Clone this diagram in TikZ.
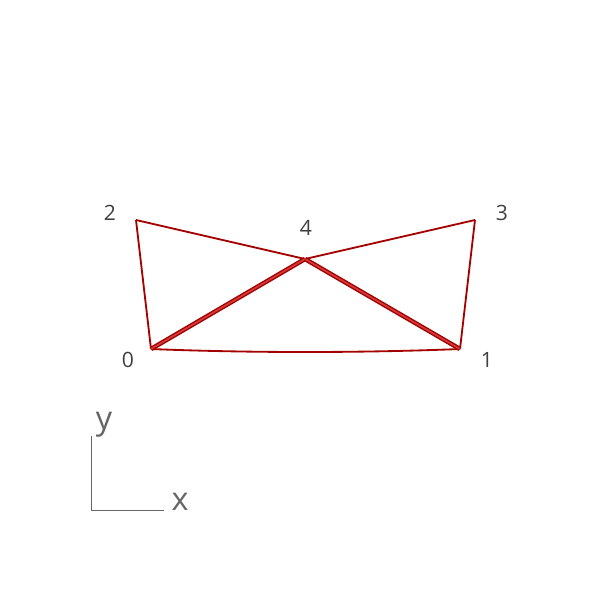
\documentclass[tikz,border=0pt]{standalone}
\usepackage{fontspec}
\setmainfont{Open Sans}
\usepackage{tikz}
\usepackage{xcolor}
\usetikzlibrary{positioning,calc}

\definecolor{barred}{HTML}{A40000}
\definecolor{barlight}{HTML}{D23A3A}
\definecolor{labelgray}{HTML}{404040}
\definecolor{axisgray}{HTML}{666666}

\begin{document}
\begin{tikzpicture}[x=0.025cm, y=-0.025cm, line join=round,
  bar/.style={draw=barred, line width=1.3pt},
  heavybar/.style={draw=barred, line width=1pt, double=barlight, double distance=1.2pt},
  jointlabel/.style={text=labelgray, font=\fontsize{15}{17}\selectfont, inner sep=0pt},
  axislabel/.style={text=axisgray, font=\fontsize{23}{26}\selectfont, inner sep=0pt},
  axisline/.style={draw=axisgray, line width=0.6pt}]

\useasboundingbox (0,0) rectangle (600,600);

% joints
\coordinate (n0) at (151,349);
\coordinate (n1) at (460,349);
\coordinate (n2) at (136,220);
\coordinate (n3) at (475,220);
\coordinate (n4) at (305,259);

% bars
\draw[bar] (n2) -- (n4) -- (n3);
\draw[bar] (n2) -- (n0);
\draw[bar] (n3) -- (n1);
\draw[bar] (n0) .. controls (250,353) and (360,353) .. (n1);
\draw[heavybar] (n0) -- (n4);
\draw[heavybar] (n4) -- (n1);

% joint numbers
\node (l0) [jointlabel] at (128,360) {0};
\node (l1) [jointlabel] at (487,360) {1};
\node (l2) [jointlabel] at (110,213) {2};
\node (l3) [jointlabel] at (502,213) {3};
\node (l4) [jointlabel] at (306,228) {4};

% axes
\coordinate (origin) at (91,510);
\coordinate (yend) at (91,436);
\coordinate (xend) at (164,510);
\draw[axisline] (yend) -- (origin) -- (xend);
\node (ylab) [axislabel] at (104,425) {y};
\node (xlab) [axislabel] at (180,502) {x};

\end{tikzpicture}
\end{document}
